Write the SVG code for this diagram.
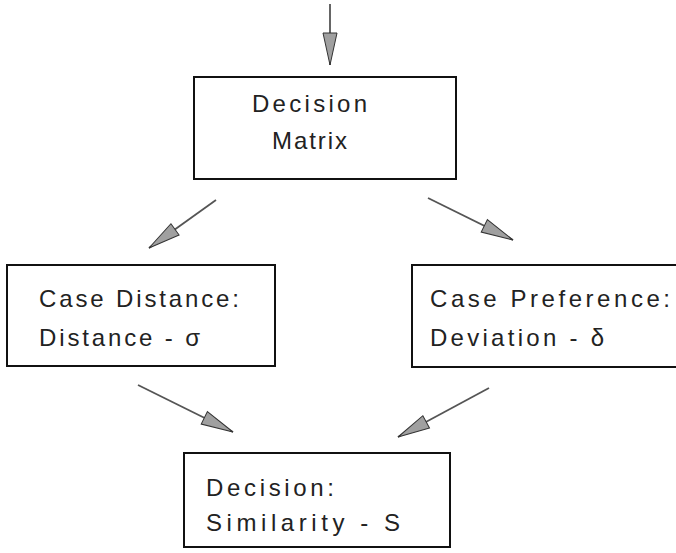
<svg xmlns="http://www.w3.org/2000/svg" width="676" height="553" viewBox="0 0 676 553">
<style>
.box{fill:#fff;stroke:#111;stroke-width:2}
.lbl{font-family:"Liberation Sans",Arial,sans-serif;font-size:24px;fill:#222;letter-spacing:3px}
.conn{stroke:#555;stroke-width:1.8;fill:none;marker-end:url(#ah)}
</style>
<defs>
<marker id="ah" markerUnits="userSpaceOnUse" viewBox="0 0 34 18" markerWidth="34" markerHeight="18" refX="33" refY="9" orient="auto">
<path d="M1,2 L33,9 L1,16 z" fill="#a0a0a0" stroke="#333" stroke-width="1"/>
</marker>
</defs>
<rect width="676" height="553" fill="#fff"/>
<g id="connectors">
<line class="conn" x1="330" y1="4" x2="330" y2="65"/>
<line class="conn" x1="216" y1="200" x2="149" y2="248"/>
<line class="conn" x1="428" y1="198" x2="513" y2="240"/>
<line class="conn" x1="138" y1="385" x2="233" y2="432"/>
<line class="conn" x1="489" y1="388" x2="398" y2="437"/>
</g>
<g id="decision-matrix">
<rect class="box" x="194" y="77" width="262" height="102"/>
<text class="lbl" x="252" y="112" textLength="118" lengthAdjust="spacing">Decision</text>
<text class="lbl" x="272" y="149" textLength="78" lengthAdjust="spacing">Matrix</text>
</g>
<g id="case-distance">
<rect class="box" x="7" y="265" width="268" height="101"/>
<text class="lbl" x="39" y="307" textLength="203" lengthAdjust="spacing">Case Distance:</text>
<text class="lbl" x="39" y="346" textLength="164" lengthAdjust="spacing">Distance - σ</text>
</g>
<g id="case-preference">
<rect class="box" x="412" y="265" width="270" height="102"/>
<text class="lbl" x="430" y="307" textLength="243" lengthAdjust="spacing">Case Preference:</text>
<text class="lbl" x="430" y="346" textLength="177" lengthAdjust="spacing">Deviation - δ</text>
</g>
<g id="decision-similarity">
<rect class="box" x="184" y="453" width="266" height="94"/>
<text class="lbl" x="206" y="496" textLength="131" lengthAdjust="spacing">Decision:</text>
<text class="lbl" x="206" y="531" textLength="197" lengthAdjust="spacing">Similarity - S</text>
</g>
</svg>
